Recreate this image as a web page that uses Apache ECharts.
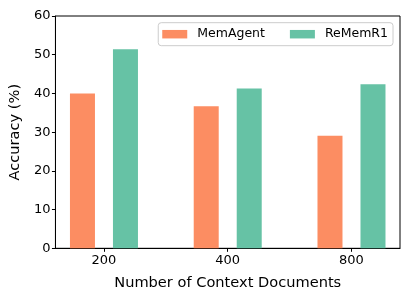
<!DOCTYPE html>
<html>
<head>
<meta charset="utf-8">
<script src="https://cdn.jsdelivr.net/npm/echarts@6/dist/echarts.min.js"></script>
<style>html,body{margin:0;padding:0;background:#fff}#c{width:411px;height:299px}</style>
</head>
<body>
<div id="c"></div>
<script>
const categories = ['200', '400', '800'];
const memAgent = [40.0, 36.7, 29.1];
const reMemR1 = [51.4, 41.3, 42.4];
const yTicks = [0, 10, 20, 30, 40, 50, 60];

const font = 'DejaVu Sans';
const chart = echarts.init(document.getElementById('c'), null, {renderer: 'canvas'});
const idx = categories.map((_, i) => i);
chart.setOption({
  animation: false,
  backgroundColor: '#fff',
  grid: {left: 52, right: 11, top: 16, bottom: 50.7, show: true, borderColor: '#000', borderWidth: 1, backgroundColor: 'transparent'},
  legend: {
    top: 22.7, right: 18,
    itemWidth: 25, itemHeight: 8.5, itemGap: 25,
    icon: 'rect',
    borderColor: '#cccccc', borderWidth: 1, borderRadius: 3,
    padding: [5, 5, 5, 4],
    textStyle: {fontFamily: font, fontSize: 12.5, color: '#000', padding: [0, 0, 0, 5]},
    data: ['MemAgent', 'ReMemR1']
  },
  xAxis: {
    type: 'value', min: -0.392, max: 2.392,
    name: 'Number of Context Documents', nameLocation: 'middle', nameGap: 27,
    nameTextStyle: {fontFamily: font, fontSize: 14.6, color: '#000'},
    axisLine: {show: true, onZero: false, lineStyle: {color: '#000', width: 1}},
    axisTick: {show: true, customValues: idx, length: 3.5, lineStyle: {color: '#000'}},
    axisLabel: {customValues: idx, formatter: v => categories[Math.round(v)], fontFamily: font, fontSize: 13, color: '#000', margin: 6},
    splitLine: {show: false}
  },
  yAxis: {
    type: 'value', min: 0, max: 60, interval: 10,
    name: 'Accuracy (%)', nameLocation: 'middle', nameGap: 23.5, nameRotate: 90,
    nameTextStyle: {fontFamily: font, fontSize: 14.6, color: '#000'},
    axisLine: {show: true, onZero: false, lineStyle: {color: '#000', width: 1}},
    axisTick: {show: true, length: 3.5, lineStyle: {color: '#000'}},
    axisLabel: {fontFamily: font, fontSize: 13, color: '#000', margin: 5, formatter: v => yTicks.includes(v) ? String(v) : ''},
    splitLine: {show: false}
  },
  series: [
    {name: 'MemAgent', type: 'bar', barWidth: 25, barGap: '72%', itemStyle: {color: '#fc8d62'},
     data: memAgent.map((v, i) => [i, v])},
    {name: 'ReMemR1', type: 'bar', barWidth: 25, barGap: '72%', itemStyle: {color: '#66c2a5'},
     data: reMemR1.map((v, i) => [i, v])}
  ]
});
</script>
</body>
</html>
